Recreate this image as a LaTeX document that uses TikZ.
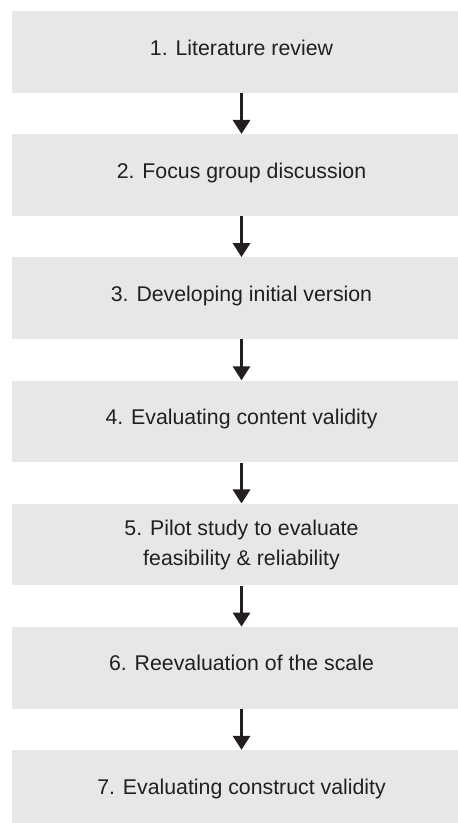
\documentclass[tikz,border=0pt]{standalone}
\usepackage{fontspec}
\setmainfont{Liberation Sans}
\usepackage{xcolor}
\usetikzlibrary{arrows.meta,positioning}

\definecolor{stagefill}{HTML}{E6E7E8}
\definecolor{inkdark}{HTML}{231F20}

\begin{document}
\begin{tikzpicture}[
    x=1pt,y=1pt,
    stage/.style={rectangle,fill=stagefill,text=inkdark,minimum width=459pt,minimum height=81.8pt,
        inner sep=0pt,align=center,text height=15.25pt,text depth=8.85pt,
        font=\fontsize{21.3pt}{30pt}\selectfont},
    arrow/.style={-{Triangle[width=17pt,length=14pt]},line width=3pt,draw=inkdark}
]
    \useasboundingbox (0,0) rectangle (458,-823);

    % Stages of the scale development
    \node[stage] (s1) at (241.5,-51.9) {1. Literature review};
    \node[stage] (s2) at (241.5,-175.07) {2. Focus group discussion};
    \node[stage] (s3) at (241.5,-298.24) {3. Developing initial version};
    \node[stage] (s4) at (241.5,-421.41) {4. Evaluating content validity};
    \node[stage,text height=,text depth=] (s5) at (241.5,-544.58) {5. Pilot study to evaluate\\feasibility \& reliability};
    \node[stage] (s6) at (241.5,-667.75) {6. Reevaluation of the scale};
    \node[stage] (s7) at (241.5,-790.92) {7. Evaluating construct validity};

    % Flow between stages
    \draw[arrow] (s1) -- (s2);
    \draw[arrow] (s2) -- (s3);
    \draw[arrow] (s3) -- (s4);
    \draw[arrow] (s4) -- (s5);
    \draw[arrow] (s5) -- (s6);
    \draw[arrow] (s6) -- (s7);
\end{tikzpicture}
\end{document}
